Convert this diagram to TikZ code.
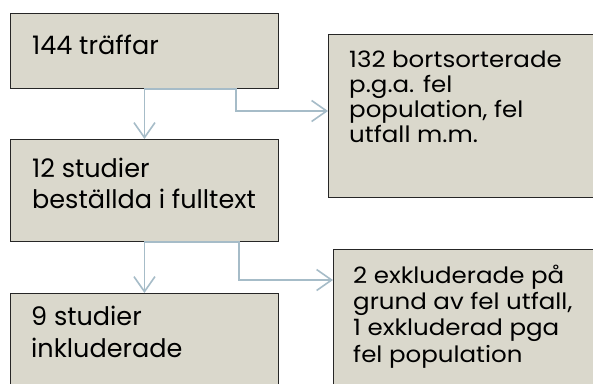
\documentclass[tikz,border=0pt]{standalone}
\usepackage{fontspec}
\setmainfont{Poppins}
\newfontfamily\leftfont{Poppins}
\newfontfamily\rightfont[FakeStretch=1.09]{Poppins}
\usetikzlibrary{arrows.meta}
\definecolor{boxfill}{RGB}{218,216,204}
\definecolor{connc}{RGB}{166,188,200}
\begin{document}
\begin{tikzpicture}[x=1pt,y=-1pt,
  box/.style={draw=black!85, line width=0.9pt, fill=boxfill, anchor=north west, inner sep=0pt},
  bigtxt/.style={anchor=base west, align=left, inner sep=0pt, font=\leftfont\fontsize{25.5}{31.5}\selectfont},
  smalltxt/.style={anchor=base west, align=left, inner sep=0pt, font=\rightfont\fontsize{22.5}{25.5}\selectfont},
  conn/.style={draw=connc, line width=1.6pt, -{Straight Barb[length=15pt,width=21pt,line width=1.6pt]}}]
\clip (0,0) rectangle (593,383);
\fill[white] (0,0) rectangle (593,383);
% boxes
\node[box, minimum width=268pt, minimum height=75pt] (a) at (10,13) {};
\node[box, minimum width=268pt, minimum height=102pt] (b) at (10,139) {};
\node[box, minimum width=268pt, minimum height=110pt] (e) at (10,293) {};
\node[box, minimum width=290pt, minimum height=163pt] (c) at (328,34) {};
\node[box, minimum width=290pt, minimum height=150pt] (d) at (333,249) {};
% texts (anchored at the baseline of the last line)
\node[bigtxt] (ta) at (32,54) {144 träffar};
\node[bigtxt] (tb) at (32,208.5) {12 studier\\beställda i fulltext};
\node[bigtxt] (te) at (31,357) {9 studier\\inkluderade};
\node[smalltxt, font=\rightfont\fontsize{22.5}{24.7}\selectfont] (tc) at (349,142) {132 bortsorterade\\p.g.a. fel\\population, fel\\utfall m.m.};
\node[smalltxt, font=\rightfont\fontsize{22.5}{26.3}\selectfont] (td) at (353,362) {2 exkluderade på\\grund av fel utfall,\\1 exkluderad pga\\fel population};
% connectors
\coordinate (ka) at (236,111);
\coordinate (kb) at (239,280);
\draw[conn] (a.south) -- (b.north);
\draw[conn] (a.south) -- (a.south -| ka) -- (ka) -- (c.west |- ka);
\draw[conn] (b.south) -- (e.north);
\draw[conn] (b.south) -- (b.south -| kb) -- (kb) -- (d.west |- kb);
\end{tikzpicture}
\end{document}
